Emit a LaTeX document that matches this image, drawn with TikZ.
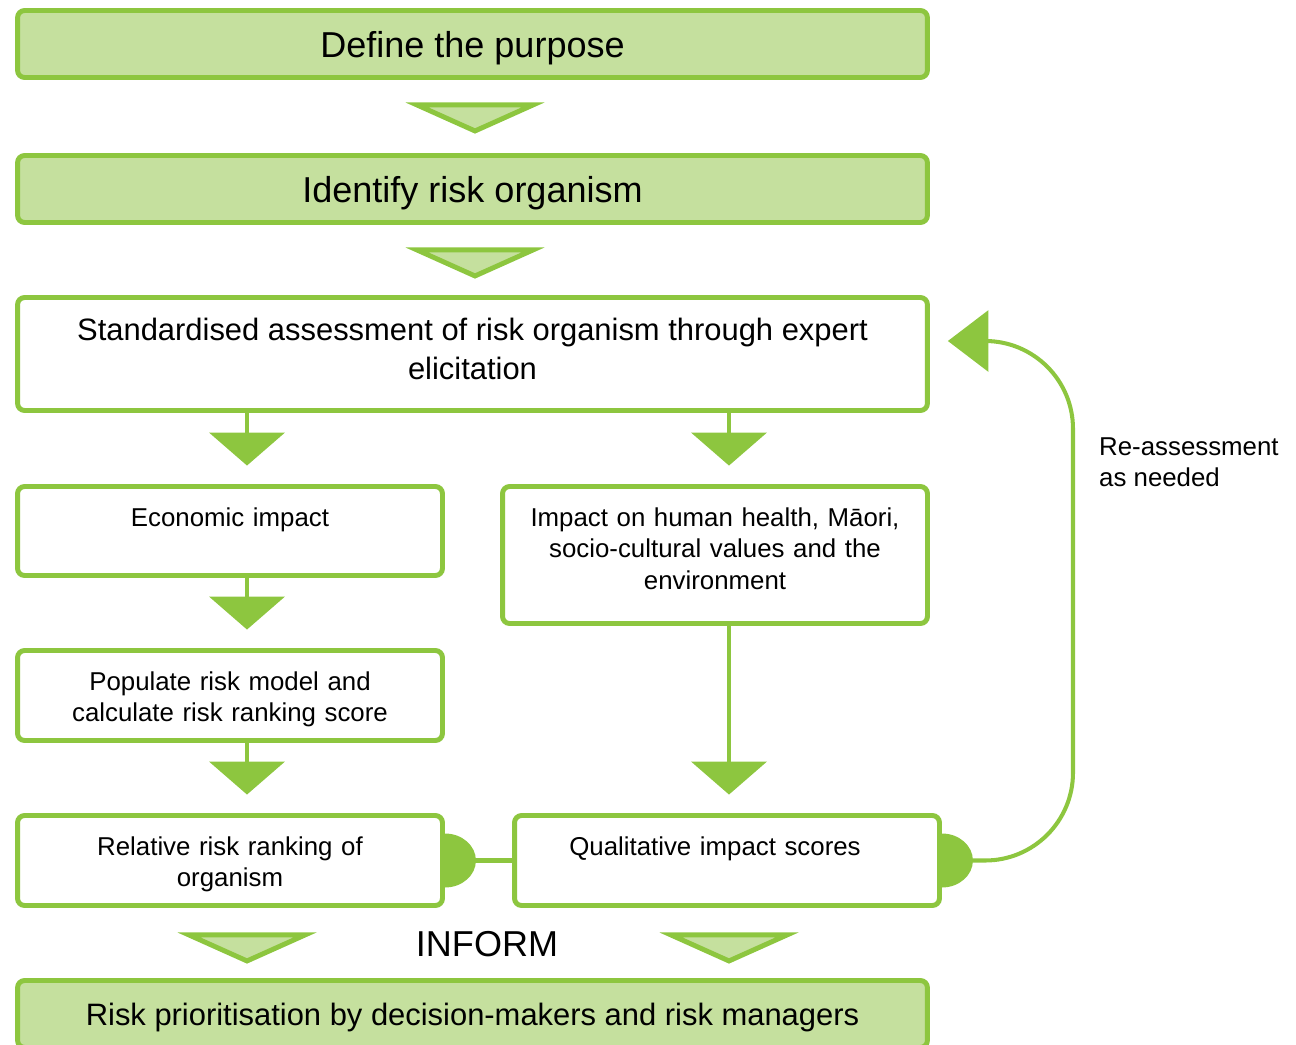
\documentclass[tikz,border=0pt]{standalone}
\usepackage{fontspec}
\setmainfont{Liberation Sans}
\usetikzlibrary{arrows.meta,calc}
\definecolor{leafgreen}{RGB}{141,198,63}
\definecolor{palegreen}{RGB}{197,224,158}
\newcommand{\bigfont}{\fontsize{20.5}{24}\selectfont}
\newcommand{\midfont}{\fontsize{17.6}{22.5}\selectfont}
\newcommand{\smallfont}{\fontsize{14.7}{18}\selectfont}
\tikzset{
  gbox/.style={draw=leafgreen, fill=palegreen, line width=2.8pt, rounded corners=4pt,
               minimum width=18.2cm, minimum height=1.34cm, align=center,
               text depth=0pt, font=\bigfont},
  wbox/.style={draw=leafgreen, fill=white, line width=2.8pt, rounded corners=4pt,
               minimum width=18.2cm, minimum height=2.26cm, align=center, font=\midfont},
  sbox/.style={draw=leafgreen, fill=white, line width=2.8pt, rounded corners=4pt,
               text width=8.3cm, inner xsep=0.1cm, inner ysep=0pt, align=center,
               text height=0.79cm, font=\smallfont},
  drop/.style={-{Triangle[length=18.7pt, width=42.5pt]}, leafgreen, line width=2.8pt,
               shorten >=0.37cm},
  chev/.style={draw=leafgreen, fill=palegreen, line width=2.8pt},
  link/.style={leafgreen, line width=2.3pt},
  redo/.style={-{Triangle[length=23pt, width=34.5pt]}, leafgreen, line width=2.3pt,
               rounded corners=50pt},
  note/.style={align=left, font=\fontsize{14.7}{17.6}\selectfont},
}
% flat down-pointing marker hung below a point
\newcommand{\chevron}[1]{%
  \draw[chev] ($(#1)+(-58,0)$) -- ($(#1)+(58,0)$) -- ($(#1)+(0,26)$) -- cycle;}
% half disc sitting on the right edge of a box
\newcommand{\halfdisc}[1]{%
  \fill[leafgreen] ($(#1)+(0,-27)$) arc[start angle=-90, end angle=90,
        x radius=31, y radius=27] -- cycle;}

\begin{document}
\begin{tikzpicture}[x=0.02cm, y=-0.02cm]
  \useasboundingbox (0,0) rectangle (1296,1045);
  \coordinate (lcol) at (247,0);
  \coordinate (rcol) at (729,0);
  \coordinate (loopx) at (1073,0);

  \node[gbox] (purpose) at (472.5,44) {Define the purpose};
  \node[gbox] (identify) at (472.5,189) {Identify risk organism};
  \node[wbox, text depth=0.2cm] (assess) at (472.5,354)
       {Standardised assessment of risk organism through expert\\elicitation};

  \node[sbox, text depth=0.99cm] (econ) at (230,531) {Economic impact};
  \node[sbox, text depth=1.95cm] (impact) at (715,555)
       {Impact on human health, Māori,\\socio-cultural values and the\\environment};
  \node[sbox, text depth=1.01cm] (populate) at (230,695.5)
       {Populate risk model and\\calculate risk ranking score};
  \node[sbox, text depth=1.01cm] (relrisk) at (230,860.5)
       {Relative risk ranking of\\organism};
  \node[sbox, text depth=1.01cm] (qual) at (727,860.5)
       {\hspace*{-0.48cm}Qualitative impact scores};

  \node[font=\bigfont] (inform) at (487,944) {INFORM};
  \node[gbox, font=\midfont] (decide) at (472.5,1014)
       {Risk prioritisation by decision-makers and risk managers};

  \node[note, anchor=west] (again) at (1093,462) {Re-assessment\\as needed};

  % green stages
  \chevron{$(purpose.south)+(2.5,25)$}
  \chevron{$(identify.south)+(2.5,25)$}
  \chevron{$(relrisk.south -| lcol)+(0,27)$}
  \chevron{$(qual.south -| rcol)+(0,27)$}

  % downward flow
  \draw[drop] (assess.south -| lcol) -- (econ.north -| lcol);
  \draw[drop] (assess.south -| rcol) -- (impact.north -| rcol);
  \draw[drop] (econ.south -| lcol) -- (populate.north -| lcol);
  \draw[drop] (populate.south -| lcol) -- (relrisk.north -| lcol);
  \draw[drop] (impact.south -| rcol) -- (qual.north -| rcol);

  % joined results and the way back
  \draw[link] (relrisk.east) -- (qual.west);
  \coordinate (backtip) at ($(assess.east)+(18,-13)$);
  \draw[redo] ($(qual.east)+(30,0)$) -| (loopx |- backtip) -- (backtip);
  \halfdisc{relrisk.east}
  \halfdisc{qual.east}
\end{tikzpicture}
\end{document}
